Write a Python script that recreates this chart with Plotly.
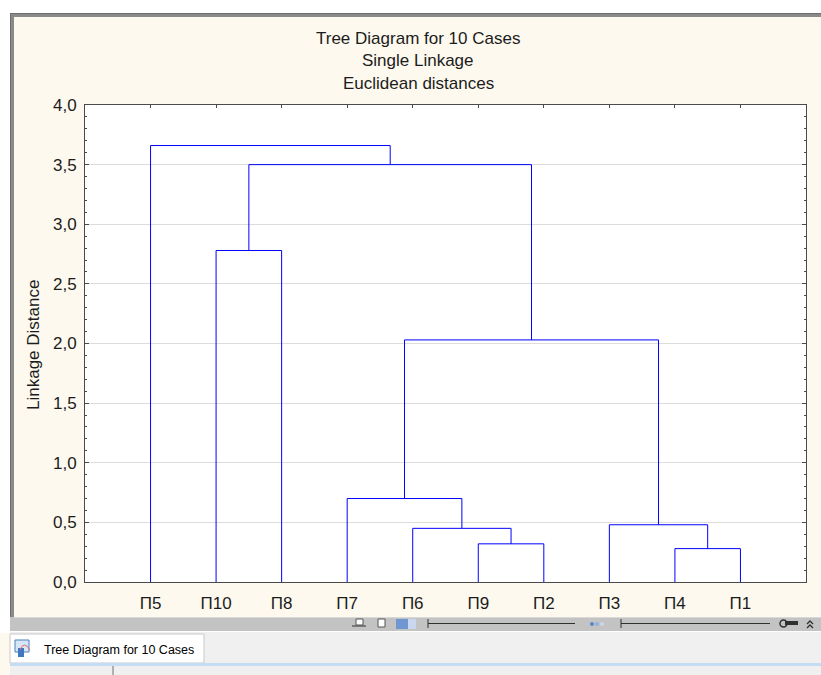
import plotly.graph_objects as go

# ---------------- data ----------------
leaf_labels = ["П5", "П10", "П8", "П7", "П6", "П9", "П2", "П3", "П4", "П1"]
# merges: (left child, right child, linkage distance); children are leaf names or "m<i>"
merge_left = ["П9", "П4", "П6", "П3", "П7", "m4", "П10", "m6", "П5"]
merge_right = ["П2", "П1", "m0", "m1", "m2", "m3", "П8", "m5", "m7"]
merge_height = [0.32, 0.28, 0.45, 0.48, 0.70, 2.03, 2.78, 3.50, 3.66]

title_lines = ["Tree Diagram for 10 Cases", "Single Linkage", "Euclidean distances"]
y_title = "Linkage Distance"
tab_label = "Tree Diagram for 10 Cases"

# ------------- dendrogram geometry from data -------------
pos = {lab: i + 1 for i, lab in enumerate(leaf_labels)}
hgt = {lab: 0.0 for lab in leaf_labels}
xs, ys = [], []
for i, (a, b, h) in enumerate(zip(merge_left, merge_right, merge_height)):
    xa, xb = pos[a], pos[b]
    xs += [xa, xa, xb, xb, None]
    ys += [hgt[a], h, h, hgt[b], None]
    pos["m%d" % i] = (xa + xb) / 2
    hgt["m%d" % i] = h

# ------------- layout helpers (pixel -> paper) -------------
W, H = 821, 675
L, R, T, B = 85, 806, 105, 582


def px(x):
    return (x - L) / (R - L)


def py(y):
    return 1 - (y - T) / (B - T)


FONT = "Arial, Liberation Sans, sans-serif"
TXT = "#1c1c1c"
FS = 17

fig = go.Figure()
fig.add_trace(go.Scatter(x=xs, y=ys, mode="lines",
                         line=dict(color="#0000FF", width=1),
                         hoverinfo="skip", showlegend=False))
# invisible trace for top axis ticks
fig.add_trace(go.Scatter(x=[1, 10], y=[0, 0], xaxis="x2", mode="markers",
                         marker=dict(opacity=0), hoverinfo="skip", showlegend=False))

shapes = []


def rect(x0, y0, x1, y1, fill, line=None, lw=0):
    shapes.append(dict(type="rect", xref="paper", yref="paper",
                       x0=px(x0), x1=px(x1), y0=py(y1), y1=py(y0),
                       fillcolor=fill, line=dict(color=line or fill, width=lw),
                       layer="below"))


def hline(x0, x1, y, color, w=1):
    shapes.append(dict(type="line", xref="paper", yref="paper",
                       x0=px(x0), x1=px(x1), y0=py(y), y1=py(y),
                       line=dict(color=color, width=w), layer="below"))


def vline(x, y0, y1, color, w=1):
    shapes.append(dict(type="line", xref="paper", yref="paper",
                       x0=px(x), x1=px(x), y0=py(y0), y1=py(y1),
                       line=dict(color=color, width=w), layer="below"))


# white margins around window
rect(0, 0, W, 13, "#FFFFFF")
rect(0, 0, 10, 633, "#FFFFFF")
# window frame
rect(10, 13, W, 17, "#8A8A8A")
rect(10, 13, 14, 617, "#8A8A8A")
hline(10, W, 13.5, "#6E6E6E")
vline(10.5, 13, 617, "#6E6E6E")
# toolbar
rect(10, 617, W, 631, "#C3C3C3")
hline(14, W, 617.5, "#D8D8D8")
# toolbar icons (approximate)
vline(428, 619, 628, "#303030")
hline(428, 575, 623.5, "#303030", 1.2)
vline(621, 619, 628, "#303030")
hline(621, 770, 623.5, "#303030", 1.2)
rect(396, 619, 416, 629, "#6F96D0")
rect(408, 619, 416, 629, "#C9D8EE")
for cx, col in [(592, "#5A86C8"), (597, "#8FB0DE"), (602, "#C9D8EE")]:
    shapes.append(dict(type="circle", xref="paper", yref="paper",
                       x0=px(cx - 2), x1=px(cx + 2), y0=py(626), y1=py(622),
                       fillcolor=col, line=dict(width=0), layer="below"))
hline(352, 366, 626, "#303030")
rect(356, 619, 363, 625, "#FFFFFF", "#555555", 1)
rect(378, 619, 385, 627, "#FFFFFF", "#555555", 1)
rect(785, 621, 798, 625, "#303030")
shapes.append(dict(type="circle", xref="paper", yref="paper",
                   x0=px(780), x1=px(787), y0=py(627), y1=py(620),
                   fillcolor="rgba(0,0,0,0)", line=dict(color="#303030", width=1.5),
                   layer="below"))
for yy in (621, 625):
    shapes.append(dict(type="path", xref="paper", yref="paper",
                       path="M %f %f L %f %f L %f %f" % (px(807), py(yy + 3), px(810), py(yy), px(813), py(yy + 3)),
                       line=dict(color="#303030", width=1.3), layer="below"))
# tab area
rect(10, 631, W, H, "#F0F0F0")
hline(10, W, 631.5, "#FFFFFF")
rect(10, 634, 204, 663, "#FFFFFF", "#C8C8C8", 1)
rect(10, 663, W, 666, "#C5DCF5")
vline(113, 666, H, "#707070")
# tab icon
rect(15, 640, 29, 652, "#D7E6F6", "#4A7FC0", 1)
rect(18, 648, 24, 657, "#3E78C2")
shapes.append(dict(type="path", xref="paper", yref="paper",
                   path="M %f %f Q %f %f %f %f" % (px(20), py(650), px(24), py(640), px(30), py(650)),
                   line=dict(color="#E07070", width=1), layer="below"))

annotations = []
for i, t in enumerate(title_lines):
    annotations.append(dict(text=t, x=px(418), y=py(38 + i * 22.5), xref="paper", yref="paper",
                            showarrow=False, xanchor="center", yanchor="middle",
                            font=dict(family=FONT, size=FS, color=TXT)))
annotations.append(dict(text=y_title, x=px(33), y=py(345), xref="paper", yref="paper",
                        showarrow=False, textangle=-90, xanchor="center", yanchor="middle",
                        font=dict(family=FONT, size=FS, color=TXT)))
annotations.append(dict(text=tab_label, x=px(42), y=py(650), xref="paper", yref="paper",
                        showarrow=False, xanchor="left", yanchor="middle",
                        font=dict(family=FONT, size=12.5, color="#000000")))

AX = "#4A4A4A"
fig.update_layout(
    width=W, height=H,
    margin=dict(l=L, r=W - R, t=T, b=H - B, pad=0),
    paper_bgcolor="#FDF9EE",
    plot_bgcolor="#FFFFFF",
    separators=", ",
    font=dict(family=FONT, size=FS, color=TXT),
    showlegend=False,
    shapes=shapes,
    annotations=annotations,
    xaxis=dict(range=[0, 11], tickvals=list(range(1, 11)), ticktext=leaf_labels,
               showgrid=False, zeroline=False, showline=True, linecolor=AX, linewidth=1,
               mirror=True, ticks="", ticklabelstandoff=6,
               tickfont=dict(family=FONT, size=FS, color=TXT), fixedrange=True),
    xaxis2=dict(range=[0, 11], tickvals=list(range(1, 11)), overlaying="x", side="top",
                showticklabels=False, ticks="inside", ticklen=3, tickcolor=AX,
                showgrid=False, zeroline=False, showline=False, fixedrange=True),
    yaxis=dict(range=[0, 4], dtick=0.5, tickformat=".1f",
               showgrid=True, gridcolor="#DCDCDC", gridwidth=1, zeroline=False,
               showline=True, linecolor=AX, linewidth=1, mirror="ticks",
               ticks="inside", ticklen=4, tickcolor=AX, ticklabelstandoff=4,
               minor=dict(dtick=0.1, ticks="inside", ticklen=2, tickcolor=AX, showgrid=False),
               tickfont=dict(family=FONT, size=FS, color=TXT), fixedrange=True),
)

fig.write_html("out.html", config={"displayModeBar": False})
